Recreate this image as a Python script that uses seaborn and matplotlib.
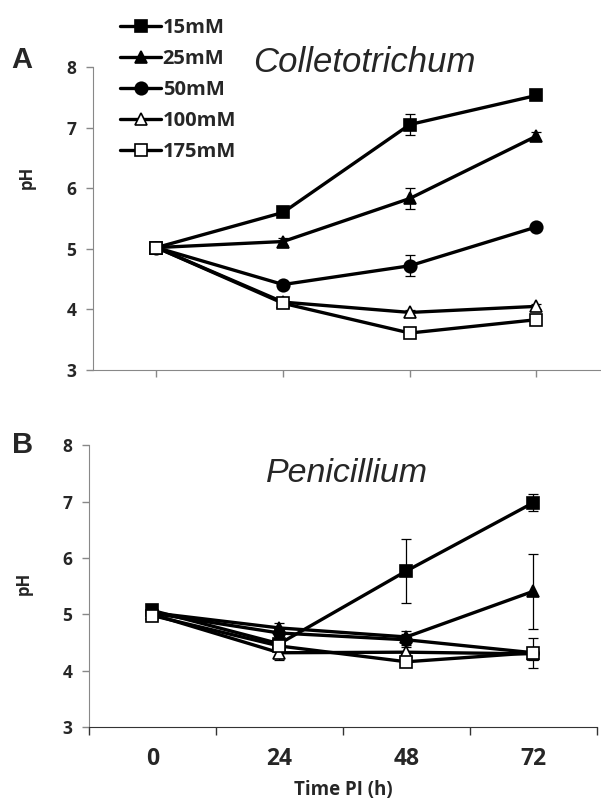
import numpy as np
import pandas as pd
import matplotlib
matplotlib.use("Agg")
import matplotlib.pyplot as plt
import seaborn as sns

sns.set_style("ticks")
plt.rcParams["font.family"] = ["Open Sans", "DejaVu Sans"]

# data
times = ["0", "24", "48", "72"]
conc = ["15mM", "25mM", "50mM", "100mM", "175mM"]
markers = ["s", "^", "o", "^", "s"]
filled = [True, True, True, False, False]

# A: Colletotrichum
a_15 = [5.02, 5.60, 7.05, 7.53]
a_25 = [5.02, 5.12, 5.83, 6.86]
a_50 = [5.02, 4.41, 4.72, 5.36]
a_100 = [5.02, 4.12, 3.95, 4.05]
a_175 = [5.02, 4.10, 3.61, 3.83]
a_15_err = [0.03, 0.04, 0.18, 0.04]
a_25_err = [0.03, 0.05, 0.17, 0.07]
a_50_err = [0.03, 0.04, 0.17, 0.05]
a_100_err = [0.03, 0.03, 0.04, 0.04]
a_175_err = [0.03, 0.04, 0.05, 0.05]

# B: Penicillium
b_15 = [5.07, 4.48, 5.77, 6.98]
b_25 = [5.03, 4.76, 4.60, 5.41]
b_50 = [5.02, 4.67, 4.55, 4.32]
b_100 = [5.00, 4.32, 4.33, 4.30]
b_175 = [4.98, 4.44, 4.16, 4.32]
b_15_err = [0.05, 0.08, 0.56, 0.15]
b_25_err = [0.04, 0.09, 0.10, 0.66]
b_50_err = [0.03, 0.08, 0.10, 0.08]
b_100_err = [0.03, 0.12, 0.10, 0.10]
b_175_err = [0.03, 0.08, 0.08, 0.27]

panels = {
    "A": ([a_15, a_25, a_50, a_100, a_175],
          [a_15_err, a_25_err, a_50_err, a_100_err, a_175_err]),
    "B": ([b_15, b_25, b_50, b_100, b_175],
          [b_15_err, b_25_err, b_50_err, b_100_err, b_175_err]),
}

fig = plt.figure(figsize=(6.01, 8), dpi=100)
axA = fig.add_axes([0.155, 0.5375, 0.843, 0.3788])
axB = fig.add_axes([0.148, 0.091, 0.845, 0.3525])

for ax, key, msize in [(axA, "A", 9), (axB, "B", 8)]:
    vals, errs = panels[key]
    for i in range(len(conc)):
        df = pd.DataFrame({"time": times, "pH": vals[i]})
        ax.errorbar(df["time"], df["pH"], yerr=errs[i], fmt="none",
                    ecolor="black", elinewidth=0.9, capsize=3.5, capthick=0.9,
                    zorder=2)
        sns.lineplot(data=df, x="time", y="pH", ax=ax, color="black",
                     linewidth=2.4, marker=markers[i], markersize=msize,
                     markerfacecolor="black" if filled[i] else "white",
                     markeredgecolor="black", markeredgewidth=1.2,
                     label=conc[i], legend=False, zorder=3 + i, sort=False)
    ax.set_ylim(3, 8)
    ax.set_xlim(-0.5, 3.5)
    ax.set_yticks([3, 4, 5, 6, 7, 8])
    ax.tick_params(axis="y", labelsize=12.5, direction="out", length=5,
                   width=1, color="#888888", pad=7)
    for lab in ax.get_yticklabels():
        lab.set_fontweight("bold")
    sns.despine(ax=ax)
    ax.spines["left"].set_color("#888888")
    ax.set_ylabel("pH", fontsize=12, fontweight="bold")
    ax.set_xlabel("")

# panel A x axis: ticks at the points, no labels
axA.set_xticks(range(len(times)))
axA.set_xticklabels([])
axA.tick_params(axis="x", direction="out", length=5, width=1, color="#888888")
axA.spines["bottom"].set_color("#888888")
axA.yaxis.set_label_coords(-0.114, 0.634)

# panel B x axis: ticks between categories, labels at the points
axB.set_xticks(np.arange(-0.5, len(times), 1.0))
axB.set_xticklabels([])
axB.set_xticks(range(len(times)), minor=True)
axB.set_xticklabels(times, minor=True, fontsize=16.5, fontweight="bold")
axB.tick_params(axis="x", which="major", direction="out", length=6, width=1,
                color="#333333")
axB.tick_params(axis="x", which="minor", length=0, pad=14)
axB.spines["bottom"].set_color("#333333")
axB.yaxis.set_label_coords(-0.11, 0.51)
axB.set_xlabel("Time PI (h)", fontsize=13.5, fontweight="bold", labelpad=7)

# titles
axA.text(0.535, 1.016, "Colletotrichum", transform=axA.transAxes,
         ha="center", va="center", fontsize=25, style="italic",
         family="Liberation Sans")
axB.text(0.508, 0.90, "Penicillium", transform=axB.transAxes,
         ha="center", va="center", fontsize=24.5, style="italic",
         family="Liberation Sans")

fig.text(0.037, 0.925, "A", fontsize=21, fontweight="bold", ha="center",
         va="center", family="Liberation Sans")
fig.text(0.038, 0.444, "B", fontsize=21, fontweight="bold", ha="center",
         va="center", family="Liberation Sans")

handles, labels = axA.get_legend_handles_labels()
handles = [h for h, l in zip(handles, labels) if l in conc]
leg = fig.legend(handles, conc, loc="upper left",
                 bbox_to_anchor=(0.177, 0.995), frameon=False,
                 prop={"size": 14.5, "weight": "bold"}, handlelength=2.0,
                 handletextpad=0.1, labelspacing=0.55, borderpad=0.2)

fig.savefig("out.png", dpi=100)
